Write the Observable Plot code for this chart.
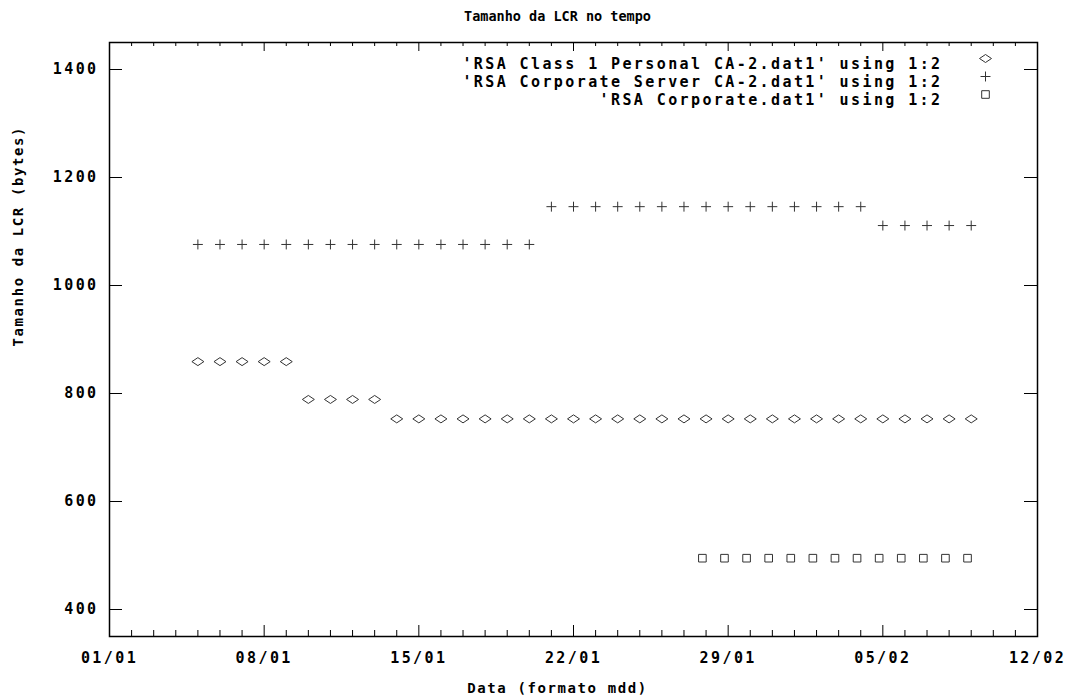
<!DOCTYPE html>
<html><head><meta charset="utf-8">
<script src="https://cdn.jsdelivr.net/npm/d3@7"></script>
<script src="https://cdn.jsdelivr.net/npm/@observablehq/plot@0.6"></script>
<style>
body{margin:0;background:#fff;}
#chart svg text{font-family:"DejaVu Sans Mono",monospace;font-weight:bold;}
g[aria-label="x-axis tick label"] text, g[aria-label="y-axis tick label"] text, g.lg text{letter-spacing:2.4px;}
g.axl text{letter-spacing:1.6px;}
</style></head><body><div id="chart"></div>
<script>
const title = "Tamanho da LCR no tempo";
const xLabel = "Data (formato mdd)";
const yLabel = "Tamanho da LCR (bytes)";
const xTicks = ["2003-01-01","2003-01-08","2003-01-15","2003-01-22","2003-01-29","2003-02-05","2003-02-12"];
const xMinorTicks = ["2003-01-02","2003-01-03","2003-01-04","2003-01-05","2003-01-06","2003-01-07","2003-01-09","2003-01-10","2003-01-11","2003-01-12","2003-01-13","2003-01-14","2003-01-16","2003-01-17","2003-01-18","2003-01-19","2003-01-20","2003-01-21","2003-01-23","2003-01-24","2003-01-25","2003-01-26","2003-01-27","2003-01-28","2003-01-30","2003-01-31","2003-02-01","2003-02-02","2003-02-03","2003-02-04","2003-02-06","2003-02-07","2003-02-08","2003-02-09","2003-02-10","2003-02-11"];
const yTicks = [400, 600, 800, 1000, 1200, 1400];
const seriesLabels = ["'RSA Class 1 Personal CA-2.dat1' using 1:2","'RSA Corporate Server CA-2.dat1' using 1:2","'RSA Corporate.dat1' using 1:2"];

const personalDates = ["2003-01-05","2003-01-06","2003-01-07","2003-01-08","2003-01-09","2003-01-10","2003-01-11","2003-01-12","2003-01-13","2003-01-14","2003-01-15","2003-01-16","2003-01-17","2003-01-18","2003-01-19","2003-01-20","2003-01-21","2003-01-22","2003-01-23","2003-01-24","2003-01-25","2003-01-26","2003-01-27","2003-01-28","2003-01-29","2003-01-30","2003-01-31","2003-02-01","2003-02-02","2003-02-03","2003-02-04","2003-02-05","2003-02-06","2003-02-07","2003-02-08","2003-02-09"];
const personalSizes = [859,859,859,859,859,789,789,789,789,753,753,753,753,753,753,753,753,753,753,753,753,753,753,753,753,753,753,753,753,753,753,753,753,753,753,753];

const serverDates = ["2003-01-05","2003-01-06","2003-01-07","2003-01-08","2003-01-09","2003-01-10","2003-01-11","2003-01-12","2003-01-13","2003-01-14","2003-01-15","2003-01-16","2003-01-17","2003-01-18","2003-01-19","2003-01-20","2003-01-21","2003-01-22","2003-01-23","2003-01-24","2003-01-25","2003-01-26","2003-01-27","2003-01-28","2003-01-29","2003-01-30","2003-01-31","2003-02-01","2003-02-02","2003-02-03","2003-02-04","2003-02-05","2003-02-06","2003-02-07","2003-02-08","2003-02-09"];
const serverSizes = [1076,1076,1076,1076,1076,1076,1076,1076,1076,1076,1076,1076,1076,1076,1076,1076,1146,1146,1146,1146,1146,1146,1146,1146,1146,1146,1146,1146,1146,1146,1146,1111,1111,1111,1111,1111];

const corporateDates = ["2003-01-27T20:00","2003-01-28T20:00","2003-01-29T20:00","2003-01-30T20:00","2003-01-31T20:00","2003-02-01T20:00","2003-02-02T20:00","2003-02-03T20:00","2003-02-04T20:00","2003-02-05T20:00","2003-02-06T20:00","2003-02-07T20:00","2003-02-08T20:00"];
const corporateSizes = [495,495,495,495,495,495,495,495,495,495,495,495,495];

const parse = s => new Date(s.length > 10 ? s + "Z" : s + "T00:00Z");
const toRows = (dates, sizes) => dates.map((d, i) => ({date: parse(d), size: sizes[i]}));
const personal = toRows(personalDates, personalSizes);
const server = toRows(serverDates, serverSizes);
const corporate = toRows(corporateDates, corporateSizes);

const wideDiamond = {draw(ctx, size){ const r = Math.sqrt(size/Math.PI); ctx.moveTo(-1.5*r,0); ctx.lineTo(0,-r); ctx.lineTo(1.5*r,0); ctx.lineTo(0,r); ctx.closePath(); }};
const symbols = [wideDiamond, "plus", "square"];
const radii = [4, 3.3, 4.3];

const W = 1075, H = 699, mL = 109, mR = 38, mT = 42, mB = 63;
const fw = W - mL - mR, fh = H - mT - mB;
const ink = "#333";

const marks = [
  Plot.frame({stroke: "#000", strokeWidth: 1.5}),
  Plot.tickX(xTicks.map(parse), {x: d => d, insetTop: fh - 11, stroke: "#000"}),
  Plot.tickX(xTicks.map(parse), {x: d => d, insetBottom: fh - 9, stroke: "#000"}),
  Plot.tickX(xMinorTicks.map(parse), {x: d => d, insetTop: fh - 6, stroke: "#000"}),
  Plot.tickX(xMinorTicks.map(parse), {x: d => d, insetBottom: fh - 4, stroke: "#000"}),
  Plot.tickY(yTicks, {y: d => d, insetRight: fw - 13, stroke: "#000"}),
  Plot.tickY(yTicks, {y: d => d, insetLeft: fw - 13, stroke: "#000"}),
  Plot.axisX({ticks: xTicks.map(parse), tickFormat: d3.utcFormat("%d/%m"), tickSize: 0, tickPadding: 16, label: null, fontSize: 15}),
  Plot.axisY({ticks: yTicks, tickFormat: d => String(d), tickSize: 0, tickPadding: 11, label: null, fontSize: 15}),
  Plot.text([title], {frameAnchor: "top", dx: -16, dy: -31, fontSize: 13.5, fill: "#000"}),
  Plot.text([xLabel], {frameAnchor: "bottom", dx: -16, dy: 56, fontSize: 14, fill: "#000", className: "axl"}),
  Plot.text([yLabel], {frameAnchor: "left", dx: -91, dy: 7, rotate: -90, fontSize: 14, fill: "#000", className: "axl"}),
  Plot.dot(personal, {x: "date", y: "size", symbol: () => symbols[0], r: radii[0], stroke: ink, strokeWidth: 1, fill: "none"}),
  Plot.dot(server, {x: "date", y: "size", symbol: () => symbols[1], r: radii[1], stroke: ink, strokeWidth: 1, fill: "none"}),
  Plot.dot(corporate, {x: "date", y: "size", symbol: () => symbols[2], r: radii[2], stroke: ink, strokeWidth: 1, fill: "none"})
];
seriesLabels.forEach((lab, i) => {
  marks.push(Plot.text([lab], {frameAnchor: "top-right", textAnchor: "end", dx: -95, dy: 16 + 18*i, fontSize: 15, fill: "#000", className: "lg"}));
  marks.push(Plot.dot([lab], {frameAnchor: "top-right", dx: -52, dy: 16 + 18*i, symbol: () => symbols[i], r: radii[i], stroke: ink, strokeWidth: 1, fill: "none"}));
});

const chart = Plot.plot({
  width: W, height: H,
  marginLeft: mL, marginRight: mR, marginTop: mT, marginBottom: mB,
  style: {fontFamily: "DejaVu Sans Mono", fontWeight: "bold", background: "#fff", color: "#000"},
  x: {type: "utc", domain: [parse("2003-01-01"), parse("2003-02-12")], axis: null},
  y: {domain: [350, 1450], axis: null},
  marks
});
document.getElementById("chart").appendChild(chart);
</script></body></html>
